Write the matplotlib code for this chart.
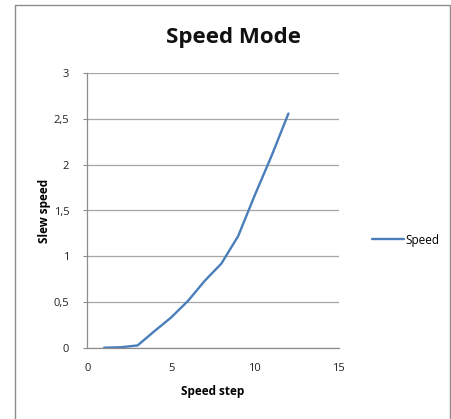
import matplotlib
matplotlib.use("Agg")
import matplotlib.pyplot as plt
from matplotlib.lines import Line2D

plt.rcParams['font.family'] = ['Open Sans', 'DejaVu Sans']

speed_step = [1, 2, 3, 4, 5, 6, 7, 8, 9, 10, 11, 12]
slew_speed = [0.0, 0.005, 0.025, 0.18, 0.33, 0.51, 0.73, 0.92, 1.22, 1.67, 2.1, 2.56]
x_ticks = [0, 5, 10, 15]
y_ticks = [0, 0.5, 1, 1.5, 2, 2.5, 3]
y_tick_labels = ["0", "0,5", "1", "1,5", "2", "2,5", "3"]

W, H = 451, 419
fig = plt.figure(figsize=(W / 100, H / 100), dpi=100)
fig.patch.set_facecolor("white")

# outer chart border (left, top, right; bottom cut off)
fig.add_artist(Line2D([14.5 / W, 14.5 / W, 449.5 / W, 449.5 / W],
                      [0, 1 - 5 / H, 1 - 5 / H, 0],
                      transform=fig.transFigure, color="#8c8c8c", linewidth=1.0))

ax = fig.add_axes([87.3 / W, 1 - 347.7 / H, (338.7 - 87.3) / W, (347.7 - 73.3) / H])
line, = ax.plot(speed_step, slew_speed, color="#4a7ebb", linewidth=1.7,
                solid_capstyle="round", label="Speed")

ax.set_xlim(0, 15)
ax.set_ylim(0, 3)
ax.set_xticks(x_ticks)
ax.set_yticks(y_ticks)
ax.set_yticklabels(y_tick_labels)
ax.grid(axis="y", color="#a6a6a6", linewidth=0.9)
ax.set_axisbelow(True)
for s in ["top", "right"]:
    ax.spines[s].set_visible(False)
for s in ["left", "bottom"]:
    ax.spines[s].set_color("#8c8c8c")
    ax.spines[s].set_linewidth(0.9)
ax.tick_params(axis="y", length=3, color="#8c8c8c", pad=10, labelsize=8, labelcolor="#222222")
ax.tick_params(axis="x", length=0, pad=11, labelsize=8, labelcolor="#222222")

ax.set_xlabel("Speed step", fontsize=8.5, fontweight="bold", labelpad=8)
ax.set_ylabel("Slew speed", fontsize=8.5, fontweight="bold", labelpad=2)

fig.text(233 / W, 1 - 38 / H, "Speed Mode", ha="center", va="center",
         fontsize=16, fontweight="bold", color="#111111")

fig.legend(handles=[line], loc="center left", bbox_to_anchor=(366 / W, 1 - 240 / H),
           frameon=False, fontsize=8.5, handlelength=2.7, handletextpad=0.15,
           borderpad=0)

fig.savefig("out.png", dpi=100, facecolor="white")
